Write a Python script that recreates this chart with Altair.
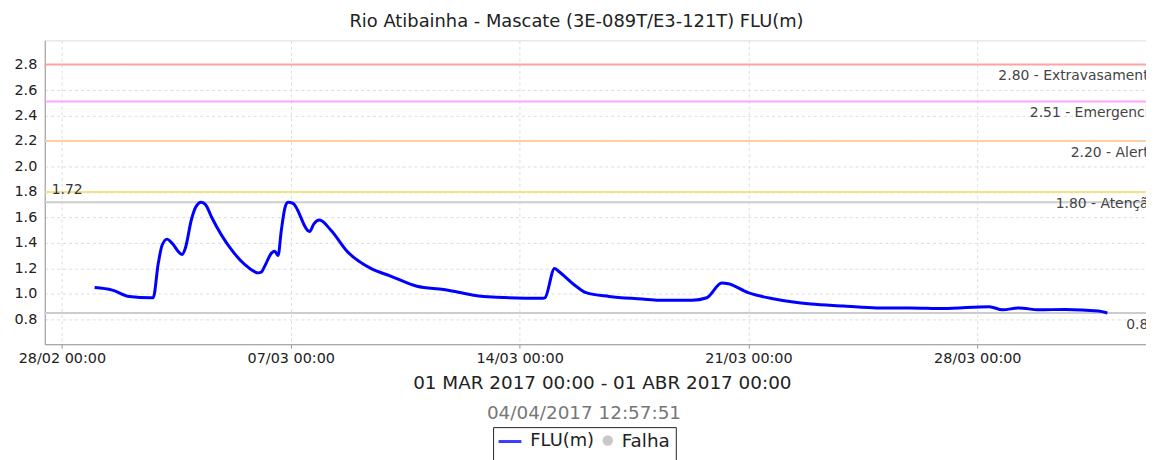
import altair as alt
import pandas as pd

# ---- data ----
times = [
    "2017-03-01 00:00", "2017-03-01 13:00", "2017-03-02 01:30", "2017-03-02 17:15",
    "2017-03-02 19:00", "2017-03-02 22:45", "2017-03-03 01:30", "2017-03-03 05:15",
    "2017-03-03 08:40", "2017-03-03 16:15", "2017-03-03 18:40", "2017-03-03 23:00",
    "2017-03-04 02:10", "2017-03-04 06:15", "2017-03-04 09:30", "2017-03-04 14:00",
    "2017-03-05 04:35", "2017-03-05 14:20", "2017-03-06 00:10", "2017-03-06 02:20",
    "2017-03-06 05:00", "2017-03-06 09:50", "2017-03-06 12:15", "2017-03-06 14:40",
    "2017-03-06 17:05", "2017-03-06 19:50", "2017-03-06 22:00", "2017-03-07 01:40",
    "2017-03-07 13:50", "2017-03-07 17:00", "2017-03-07 21:00", "2017-03-08 05:30",
    "2017-03-08 17:45", "2017-03-09 10:45", "2017-03-10 01:15", "2017-03-10 20:40",
    "2017-03-11 16:15", "2017-03-12 21:20", "2017-03-14 17:00", "2017-03-14 18:40",
    "2017-03-15 01:40", "2017-03-15 04:20", "2017-03-15 17:30", "2017-03-16 00:45",
    "2017-03-16 17:45", "2017-03-17 18:00", "2017-03-18 06:15", "2017-03-19 06:30",
    "2017-03-19 17:30", "2017-03-20 04:20", "2017-03-20 09:10", "2017-03-20 23:45",
    "2017-03-21 19:10", "2017-03-22 21:50", "2017-03-23 22:10", "2017-03-24 22:20",
    "2017-03-25 22:35", "2017-03-26 22:50", "2017-03-28 08:50", "2017-03-28 18:30",
    "2017-03-29 06:40", "2017-03-29 21:10", "2017-03-30 16:35", "2017-03-31 16:50",
    "2017-03-31 23:30",
]
levels = [
    1.05, 1.03, 0.98, 0.97,
    0.97, 1.24, 1.38, 1.43,
    1.40, 1.31, 1.36, 1.58,
    1.68, 1.72, 1.70, 1.60,
    1.345, 1.23, 1.165, 1.17,
    1.22, 1.32, 1.335, 1.30,
    1.50, 1.68, 1.72, 1.71,
    1.49, 1.55, 1.58, 1.50,
    1.33, 1.20, 1.14, 1.06,
    1.035, 0.98, 0.965, 0.97,
    1.20, 1.18, 1.06, 1.01,
    0.98, 0.96, 0.95, 0.95,
    0.97, 1.085, 1.08, 1.01,
    0.96, 0.92, 0.905, 0.89,
    0.89, 0.885, 0.90, 0.875,
    0.89, 0.875, 0.878, 0.865,
    0.85,
]

threshold_values = [2.80, 2.51, 2.20, 1.80]
threshold_labels = ["2.80 - Extravasamento", "2.51 - Emergencia", "2.20 - Alerta", "1.80 - Atenção"]
threshold_colors = ["#ff9a9a", "#ff99ff", "#ffc999", "#f2e27a"]

max_value = 1.72
min_value = 0.85

y_domain = [0.605, 2.99]
y_ticks = [0.8, 1.0, 1.2, 1.4, 1.6, 1.8, 2.0, 2.2, 2.4, 2.6, 2.8]
x_tick_days = [(2, 28), (3, 7), (3, 14), (3, 21), (3, 28)]
label_anchor_right = "2017-04-02 12:00"
label_anchor_left = "2017-02-27 16:30"

title_text = "Rio Atibainha - Mascate (3E-089T/E3-121T) FLU(m)"
x_title = "01 MAR 2017 00:00 - 01 ABR 2017 00:00"
stamp_text = "04/04/2017 12:57:51"
legend_names = ["FLU(m)", "Falha"]

FONT = "DejaVu Sans"

# ---- tables ----
series = pd.DataFrame({"t": pd.to_datetime(times), "v": levels})
thr = pd.DataFrame({"v": threshold_values, "label": threshold_labels, "c": threshold_colors,
                    "t": pd.to_datetime(label_anchor_right)})
mm = pd.DataFrame({"v": [max_value, min_value]})

xscale = alt.Scale(domain=[alt.DateTime(year=2017, month=2, date=27, hours=11, minutes=24),
                           alt.DateTime(year=2017, month=4, date=2, hours=3, minutes=50)])
yscale = alt.Scale(domain=y_domain, nice=False, zero=False)

x_axis = alt.Axis(
    values=[alt.DateTime(year=2017, month=m, date=d) for m, d in x_tick_days],
    format="%d/%m %H:%M", labelFontSize=14.5, labelColor="#222", labelFont=FONT,
    labelOverlap=False, grid=True, gridDash=[3, 3], gridColor="#dddddd",
    domainColor="#999999", tickColor="#999999", tickSize=4, labelPadding=3,
    title=x_title, titleFont=FONT, titleFontSize=18.5, titleFontWeight="normal",
    titleColor="#222", titleX=561, titleY=39, titleBaseline="middle",
    titleAlign="center",
)
y_axis = alt.Axis(
    values=y_ticks, format=".1f", labelFontSize=14.5, labelColor="#222", labelFont=FONT,
    labelOverlap=False, labelFlush=False, grid=True, gridDash=[3, 3], gridColor="#dddddd",
    domainColor="#999999", ticks=False, labelPadding=8, title=None,
)

Y = alt.Y("v:Q", scale=yscale, axis=y_axis)
X = alt.X("t:T", scale=xscale, axis=x_axis)

thr_lines = alt.Chart(thr).mark_rule(strokeWidth=2, opacity=0.9).encode(
    y=Y,
    color=alt.Color("c:N", scale=None, legend=None),
)
thr_text = alt.Chart(thr).mark_text(
    align="right", baseline="top", dy=5, fontSize=14, font=FONT, color="#444", clip=True
).encode(x=X, y=Y, text="label:N")

mm_lines = alt.Chart(mm).mark_rule(strokeWidth=2, color="#cccccc").encode(y=Y)
max_text = alt.Chart(pd.DataFrame({"v": [max_value], "t": pd.to_datetime([label_anchor_left]),
                                   "txt": [f"{max_value:.2f}"]})).mark_text(
    align="left", baseline="bottom", dy=-5, fontSize=14, font=FONT, color="#333"
).encode(x=X, y=Y, text="txt:N")
min_text = alt.Chart(pd.DataFrame({"v": [min_value], "t": pd.to_datetime([label_anchor_right]),
                                   "txt": [f"{min_value:.2f}"]})).mark_text(
    align="right", baseline="top", dy=5, fontSize=14, font=FONT, color="#444", clip=True
).encode(x=X, y=Y, text="txt:N")

line = alt.Chart(series).mark_line(strokeWidth=3, color="#0000ff", interpolate="monotone").encode(
    x=X, y=Y,
)

# ---- annotations outside the plot (subtitle stamp and legend box) ----
stamp = alt.Chart(pd.DataFrame({"txt": [stamp_text]})).mark_text(
    fontSize=18.5, font=FONT, color="#777", align="center", baseline="middle"
).encode(x=alt.value(543), y=alt.value(375), text="txt:N")

leg_box = alt.Chart(pd.DataFrame({"a": [0]})).mark_rect(
    fill="white", stroke="#222", strokeWidth=1
).encode(x=alt.value(452), x2=alt.value(636), y=alt.value(390), y2=alt.value(430))
leg_line = alt.Chart(pd.DataFrame({"a": [0]})).mark_rule(
    color="#3a3aff", strokeWidth=3
).encode(x=alt.value(457), x2=alt.value(480), y=alt.value(404))
leg_dot = alt.Chart(pd.DataFrame({"a": [0]})).mark_point(
    filled=True, color="#c8c8c8", size=110, opacity=1
).encode(x=alt.value(567), y=alt.value(403))
leg_text1 = alt.Chart(pd.DataFrame({"txt": [legend_names[0]]})).mark_text(
    fontSize=18, font=FONT, color="#222", align="left", baseline="middle"
).encode(x=alt.value(489), y=alt.value(403), text="txt:N")
leg_text2 = alt.Chart(pd.DataFrame({"txt": [legend_names[1]]})).mark_text(
    fontSize=18.5, font=FONT, color="#222", align="left", baseline="middle"
).encode(x=alt.value(581), y=alt.value(403), text="txt:N")

chart = alt.layer(
    thr_lines, mm_lines, line, thr_text, max_text, min_text, stamp,
    leg_box, leg_line, leg_dot, leg_text1, leg_text2,
).properties(
    width=1109, height=306,
    title=alt.TitleParams(title_text, font=FONT, fontSize=18, fontWeight="normal",
                          color="#222", anchor="middle", dx=-19, offset=9),
    autosize=alt.AutoSizeParams(type="none"),
    padding={"left": 37, "top": 31, "right": 0, "bottom": 115},
).configure_view(stroke="#cccccc", strokeWidth=1).configure_axisY(
    labelOverlap=False
).configure(background="white")

chart.save("out.html", embed_options={"renderer": "svg", "actions": False})
